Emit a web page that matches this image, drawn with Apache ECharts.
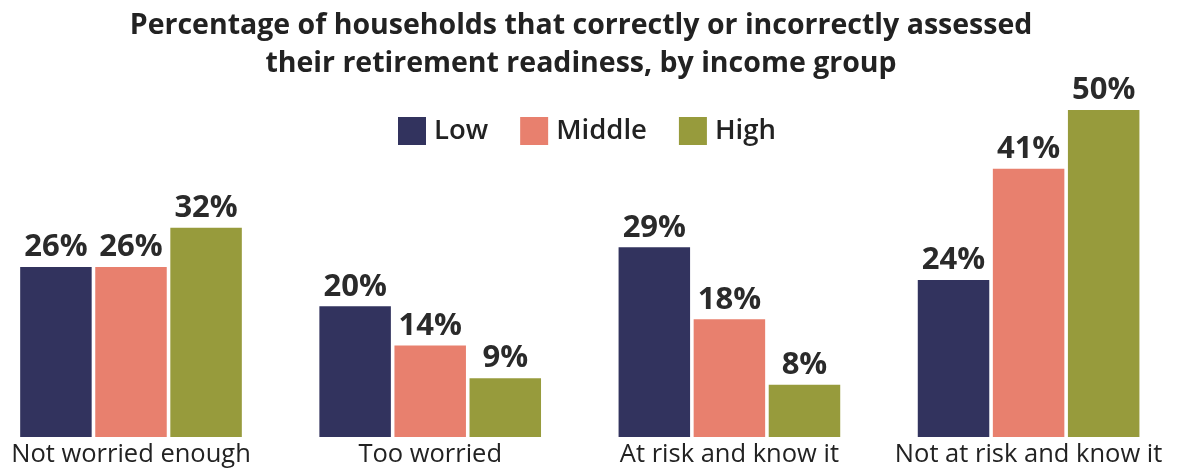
<!DOCTYPE html>
<html>
<head>
<meta charset="utf-8">
<script src="https://cdn.jsdelivr.net/npm/echarts@6/dist/echarts.min.js"></script>
<style>html,body{margin:0;padding:0;background:#fff;}#c{width:1179px;height:470px;}</style>
</head>
<body>
<div id="c"></div>
<script>
const categories = ['Not worried enough', 'Too worried', 'At risk and know it', 'Not at risk and know it'];
const seriesNames = ['Low', 'Middle', 'High'];
const lowValues = [26, 20, 29, 24];
const middleValues = [26, 14, 18, 41];
const highValues = [32, 9, 8, 50];
const colors = ['#32335e', '#e8806e', '#979b3c'];

const chart = echarts.init(document.getElementById('c'), null, {renderer: 'canvas'});
const font = '"Open Sans", Lato, sans-serif';
function mkSeries(name, data, color) {
  return {
    name: name, type: 'bar', data: data, clip: false,
    barWidth: 71.5, barGap: '5%',
    itemStyle: {color: color},
    label: {
      show: true, position: 'top', distance: 4,
      formatter: '{c}%', fontFamily: font, fontWeight: 700, fontSize: 31, color: '#2a2a2a'
    }
  };
}
chart.setOption({
  animation: false,
  title: {
    text: 'Percentage of households that correctly or incorrectly assessed\ntheir retirement readiness, by income group',
    left: 576, top: 2, textAlign: 'center',
    textStyle: {fontFamily: font, fontWeight: 'bold', fontSize: 28.5, lineHeight: 38, color: '#222'}
  },
  legend: {
    data: seriesNames, left: 393, top: 112,
    itemWidth: 28, itemHeight: 28, itemGap: 32, icon: 'rect',
    textStyle: {fontFamily: font, fontSize: 27.5, fontWeight: 600, color: '#222', padding: [0, 0, 0, 3]}
  },
  grid: {left: 131, right: 150.4, top: 44.6, bottom: 33, containLabel: false},
  xAxis: {
    type: 'category', data: categories, boundaryGap: false,
    axisLine: {show: false}, axisTick: {show: false},
    axisLabel: {fontFamily: font, fontSize: 25.5, fontWeight: 500, color: '#222', margin: 5, interval: 0}
  },
  yAxis: {type: 'value', min: 0, max: 60, show: false, splitLine: {show: false}},
  series: [
    mkSeries(seriesNames[0], lowValues, colors[0]),
    mkSeries(seriesNames[1], middleValues, colors[1]),
    mkSeries(seriesNames[2], highValues, colors[2])
  ]
});
</script>
</body>
</html>
